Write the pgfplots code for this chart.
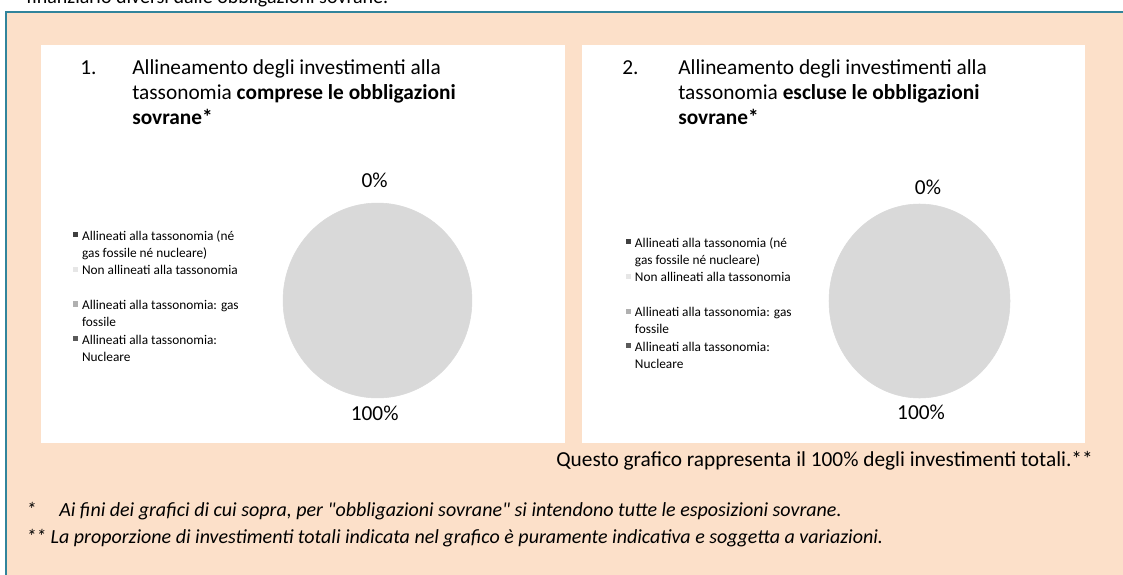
\documentclass[border=0pt]{standalone}
\usepackage{fontspec}
\setmainfont{Carlito}
\usepackage{pgfplots}
\usepackage{pgfplotstable}
\pgfplotsset{compat=1.18}

\definecolor{peach}{HTML}{FCE0C9}
\definecolor{teal}{HTML}{31849B}
\definecolor{piegray}{HTML}{D9D9D9}
\definecolor{cA}{HTML}{404040}
\definecolor{cB}{HTML}{E6E6E6}
\definecolor{cC}{HTML}{B0B0B0}
\definecolor{cD}{HTML}{5A5A5A}

% shares: 0 = aligned (no gas/nuclear), 1 = not aligned, 2 = gas, 3 = nuclear
\pgfplotstableread{
slice share
0 0
1 100
2 0
3 0
}\shares

\tikzset{lbl/.style={font=\fontsize{16}{19}\selectfont}}
\pgfplotsset{
  pie/.style={
    hide axis, scale only axis, anchor=center, clip=false,
    xmin=-1, xmax=1, ymin=-1, ymax=1,
    legend cell align=left,
    legend style={draw=none, fill=none, inner sep=0pt, anchor=north west,
      font=\fontsize{10}{12}\selectfont, row sep=0pt,
      cells={text height=7.5pt, text depth=4.5pt},
      /tikz/every odd column/.style={column sep=0.8pt}},
    legend image code/.code={\fill[##1] (0pt,-0.8pt) rectangle (3.8pt,3pt);},
  },
}

% one legend row per text line; continuation lines carry no swatch
\newcommand\legendentries{%
  \addlegendimage{fill=cA, draw=none}
  \addlegendentry{Allineati alla tassonomia (né}
  \addlegendimage{empty legend}
  \addlegendentry{gas fossile né nucleare)}
  \addlegendimage{fill=cB, draw=none}
  \addlegendentry{Non allineati alla tassonomia}
  \addlegendimage{empty legend}
  \addlegendentry{}
  \addlegendimage{fill=cC, draw=none}
  \addlegendentry{Allineati alla tassonomia: gas}
  \addlegendimage{empty legend}
  \addlegendentry{fossile}
  \addlegendimage{fill=cD, draw=none}
  \addlegendentry{Allineati alla tassonomia:}
  \addlegendimage{empty legend}
  \addlegendentry{Nucleare}
}

\begin{document}
\begin{tikzpicture}[x=0.75pt, y=-0.75pt]
\useasboundingbox (0,0) rectangle (1123,574);
\clip (0,0) rectangle (1123,574);

% surrounding text and box
\node[anchor=base west, inner sep=0, font=\fontsize{15}{18}\selectfont] at (26,4) {finanziario diversi dalle obbligazioni sovrane.};
\fill[peach] (6,12) rectangle (1130,580);
\draw[teal, line width=1.2pt] (6,580) -- (6,12) -- (1130,12);
\fill[white] (41,45) rectangle (565,443);
\fill[white] (582,45) rectangle (1085,443);

% titles
\begin{scope}[every node/.style={anchor=base west, inner sep=0, lbl}]
  \node at (80,75) {1.};
  \node at (132,75) {Allineamento degli investimenti alla};
  \node at (132,100) {tassonomia \textbf{comprese le obbligazioni}};
  \node at (132,125) {\textbf{sovrane*}};
  \node at (622,75) {2.};
  \node at (678,75) {Allineamento degli investimenti alla};
  \node at (678,100) {tassonomia \textbf{escluse le obbligazioni}};
  \node at (678,125) {\textbf{sovrane*}};
\end{scope}

% pie 1
\begin{axis}[pie, at={(377.5*0.75pt,-300.5*0.75pt)},
  width=141.75pt, height=146.25pt,
  legend style={at={(axis description cs:-1.111,0.876)}}]
  \legendentries
  \addplot[only marks, mark=*, mark size=73.1pt, forget plot, color=piegray,
    mark options={draw=piegray, fill=piegray, xscale=0.969}]
    table[x expr=0, y expr=0, restrict expr to domain={\thisrow{share}}{100:100}] {\shares};
  \node[lbl] at (axis cs:-0.03,1.236) {0\%};
  \node[lbl] at (axis cs:-0.03,-1.154) {100\%};
\end{axis}

% pie 2
\begin{axis}[pie, at={(919.5*0.75pt,-301*0.75pt)},
  width=135.75pt, height=145.5pt,
  legend style={at={(axis description cs:-1.122,0.844)}}]
  \legendentries
  \addplot[only marks, mark=*, mark size=72.75pt, forget plot, color=piegray,
    mark options={draw=piegray, fill=piegray, xscale=0.933}]
    table[x expr=0, y expr=0, restrict expr to domain={\thisrow{share}}{100:100}] {\shares};
  \node[lbl] at (axis cs:0.094,1.175) {0\%};
  \node[lbl] at (axis cs:0.017,-1.144) {100\%};
\end{axis}

% notes
\node[anchor=base east, inner sep=0, lbl] at (1093,466)
  {Questo grafico rappresenta il 100\% degli investimenti totali.**};
\begin{scope}[every node/.style={anchor=base west, inner sep=0, font=\fontsize{15}{18}\selectfont\itshape}]
  \node at (26,516) {*};
  \node at (59,516) {Ai fini dei grafici di cui sopra, per \textquotedbl obbligazioni sovrane\textquotedbl{} si intendono tutte le esposizioni sovrane.};
  \node at (26,543) {** La proporzione di investimenti totali indicata nel grafico è puramente indicativa e soggetta a variazioni.};
\end{scope}
\end{tikzpicture}
\end{document}
